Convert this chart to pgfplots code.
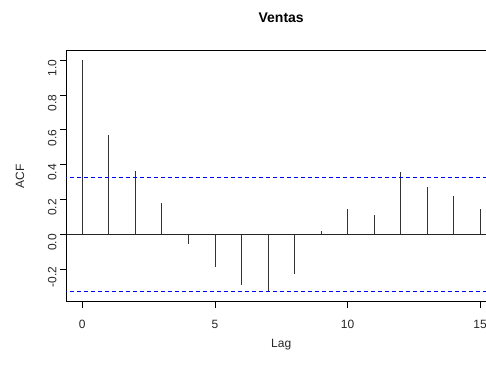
\documentclass[border=0pt]{standalone}
\usepackage{pgfplots}
\pgfplotsset{compat=1.18}
\usepackage{fontspec}
\setmainfont{Liberation Sans}
\definecolor{ciblue}{RGB}{0,0,255}
\begin{document}
\begin{tikzpicture}[x=1pt,y=1pt]
\useasboundingbox (0,0) rectangle (486,364);
\clip (0,0) rectangle (486,364);
\begin{axis}[
  at={(66.4pt,62.2pt)}, anchor=south west,
  scale only axis, width=429.6pt, height=251pt,
  xmin=-0.6, xmax=15.6, ymin=-0.387, ymax=1.053,
  axis line style={black, line width=0.75pt},
  xtick={0,5,10,15}, ytick={-0.2,0,0.2,0.4,0.6,0.8,1.0},
  yticklabel style={rotate=90, anchor=south, /pgf/number format/fixed, /pgf/number format/fixed zerofill, /pgf/number format/precision=1},
  /pgf/number format/assume math mode=true,
  tick align=outside, tick pos=left,
  major tick length=6.5pt,
  tick style={black, line width=0.75pt},
  ticklabel style={font=\fontsize{12}{14}\selectfont, text=black!85},
  xticklabel style={yshift=-8pt},
  yticklabel style={xshift=-8pt},
  xlabel={Lag}, ylabel={ACF},
  every axis x label/.style={at={(axis description cs:0.5,0)}, anchor=center, yshift=-43pt, font=\fontsize{12}{14}\selectfont, text=black!85},
  every axis y label/.style={at={(axis description cs:0,0.5)}, xshift=-46.5pt, rotate=90, anchor=center, font=\fontsize{12}{14}\selectfont, text=black!85},
  title={\bfseries Ventas},
  every axis title/.style={at={(axis description cs:0.5,1)}, anchor=center, yshift=33.5pt, font=\fontsize{14}{16}\selectfont\bfseries},
  clip=true,
]
\addplot[ycomb, black!80, line width=0.8pt, mark=none] coordinates {
(0,1.0) (1,0.570) (2,0.363) (3,0.180) (4,-0.057) (5,-0.189) (6,-0.293) (7,-0.333)
(8,-0.228) (9,0.019) (10,0.143) (11,0.109) (12,0.357) (13,0.273) (14,0.222) (15,0.147)
};
\addplot[black!85, line width=0.75pt, mark=none] coordinates {(-1,0) (16,0)};
\addplot[color=ciblue, solid, line width=0.8pt, dash pattern=on 4pt off 3pt, mark=none] coordinates {(-1,0.3267) (16,0.3267)};
\addplot[color=ciblue, solid, line width=0.8pt, dash pattern=on 4pt off 3pt, mark=none] coordinates {(-1,-0.3267) (16,-0.3267)};
\end{axis}
\end{tikzpicture}
\end{document}
